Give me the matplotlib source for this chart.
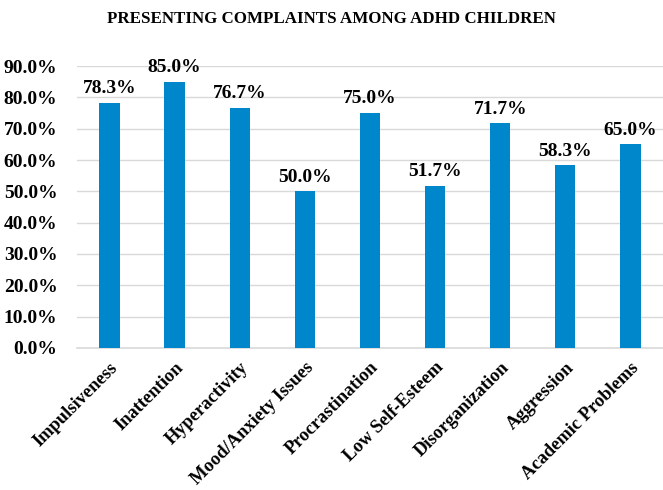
import matplotlib.pyplot as plt
from matplotlib.ticker import PercentFormatter

categories = ["Impulsiveness", "Inattention", "Hyperactivity", "Mood/Anxiety Issues",
              "Procrastination", "Low Self-Esteem", "Disorganization", "Aggression",
              "Academic Problems"]
values = [78.3, 85.0, 76.7, 50.0, 75.0, 51.7, 71.7, 58.3, 65.0]
yticks = [0, 10, 20, 30, 40, 50, 60, 70, 80, 90]

plt.rcParams['font.family'] = ['Liberation Serif', 'DejaVu Serif']
plt.rcParams['font.weight'] = 'bold'

fig = plt.figure(figsize=(6.63, 4.9), dpi=100)
ax = fig.add_axes([0.116, 0.29, 0.884, 0.575])

x = range(len(categories))
bars = ax.bar(x, values, width=0.31, color='#0087CB', zorder=3)
for b, v in zip(bars, values):
    ax.text(b.get_x() + b.get_width() / 2, v + 1.8, f"{v:.1f}%", ha='center', va='bottom',
            fontsize=14, fontweight='bold')

ax.set_xlim(-0.5, 8.5)
ax.set_ylim(0, 90)
ax.set_yticks(yticks)
ax.yaxis.set_major_formatter(PercentFormatter(decimals=1))
ax.set_xticks(list(x))
ax.set_xticklabels(categories, rotation=45, ha='right', rotation_mode='anchor')
ax.tick_params(axis='y', length=0, labelsize=14, pad=14)
ax.tick_params(axis='x', length=0, labelsize=13.3, pad=8)
ax.grid(axis='y', color='#d9d9d9', linewidth=1, zorder=0)
for s in ['top', 'right', 'left']:
    ax.spines[s].set_visible(False)
ax.spines['bottom'].set_color('#d9d9d9')
ax.spines['bottom'].set_linewidth(1.2)

fig.text(0.5, 0.962, "PRESENTING COMPLAINTS AMONG ADHD CHILDREN", ha='center', va='center',
         fontsize=12.2, fontweight='bold')

fig.savefig("out.png", dpi=100)
